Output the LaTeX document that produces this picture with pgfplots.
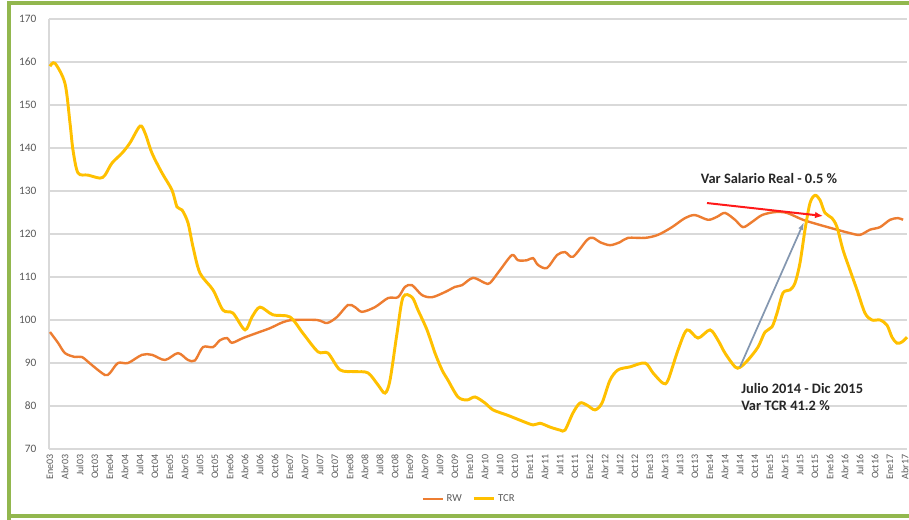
\documentclass[border=0pt]{standalone}
\usepackage{pgfplots}
\pgfplotsset{compat=1.18}
\usetikzlibrary{arrows.meta}
\usepackage{fontspec}
\setmainfont{Carlito}
\definecolor{rwc}{HTML}{ED7D31}
\definecolor{tcrc}{HTML}{FFC000}
\definecolor{gridc}{HTML}{D9D9D9}
\definecolor{txtc}{HTML}{595959}
\definecolor{greenb}{HTML}{92B74E}
\definecolor{arrg}{HTML}{8497B0}
\begin{document}
\begin{tikzpicture}
\path[use as bounding box] (0,0) rectangle (681.75pt,389.25pt);
% green frame (1px = 0.75pt)
\draw[greenb, line width=3pt] (6.75pt,-5pt) -- (6.75pt,387pt) -- (690pt,387pt);
\draw[greenb, line width=3pt] (6.75pt,2pt) -- (690pt,2pt);
\begin{axis}[
  at={(36.75pt,52.5pt)}, anchor=south west,
  scale only axis, width=643.5pt, height=322.5pt,
  xmin=-0.2, xmax=171.4, ymin=70, ymax=170,
  ytick={70,80,...,170},
  xtick={0,3,...,171},
  xticklabels={Ene03,Abr03,Jul03,Oct03,Ene04,Abr04,Jul04,Oct04,Ene05,Abr05,Jul05,Oct05,Ene06,Abr06,Jul06,Oct06,Ene07,Abr07,Jul07,Oct07,Ene08,Abr08,Jul08,Oct08,Ene09,Abr09,Jul09,Oct09,Ene10,Abr10,Jul10,Oct10,Ene11,Abr11,Jul11,Oct11,Ene12,Abr12,Jul12,Oct12,Ene13,Abr13,Jul13,Oct13,Ene14,Abr14,Jul14,Oct14,Ene15,Abr15,Jul15,Oct15,Ene16,Abr16,Jul16,Oct16,Ene17,Abr17},
  x tick label style={rotate=90, anchor=east, font=\fontsize{7.5}{8}\selectfont, text=txtc, inner sep=1pt},
  y tick label style={font=\fontsize{8.5}{9}\selectfont, text=txtc},
  /pgf/number format/assume math mode=true,
  major tick length=0pt,
  ymajorgrids, grid style={gridc, line width=1pt},
  axis line style={draw=none},
  xticklabel shift=3pt,
  yticklabel shift=6pt,
  clip=false,
  legend columns=2,
  legend style={at={(0.49,-0.116)}, anchor=center, draw=none, fill=none,
    font=\fontsize{8}{9}\selectfont, text=txtc, /tikz/every even column/.append style={column sep=6pt}},
  legend image code/.code={\draw[#1] (0pt,0pt) -- (15pt,0pt);},
]
\draw[gridc, line width=0.8pt] (axis cs:-0.2,70) -- (axis cs:-0.2,170);
\addplot[rwc, line width=1.8pt, smooth, tension=0.5] coordinates {
(0,97.2) (1.6,94.7) (3,92.3) (5,91.4) (6.4,91.4) (8.4,89.5) (11,87.2) (12,87.7)
(13.6,90) (15.6,90) (18.4,91.9) (20.4,91.9) (23,90.7) (25.6,92.3) (27.6,90.7) (29,90.6)
(30.6,93.7) (32.6,93.7) (34,95.3) (35.4,95.8) (36.4,94.7) (38.6,95.8) (41.4,97) (44,98.1)
(46.6,99.5) (48.6,100) (53.4,100) (55.4,99.3) (57.4,100.7) (59.6,103.5) (61,103) (62.4,101.9)
(65,103) (67.6,105.1) (69.6,105.3) (71,107.7) (72.4,108.1) (74.4,105.8) (76.4,105.3) (79,106.5)
(81,107.7) (82.4,108.1) (84.6,109.8) (87,108.6) (88,108.6) (90,111.6) (92.4,115.1) (93.6,113.9)
(95.4,113.9) (96.6,114.4) (97.6,112.8) (99.4,112.1) (101.4,115.1) (103,115.8) (104.6,114.7) (107.4,118.6)
(108.6,119.1) (110,118.1) (112,117.4) (114,118.1) (115.6,119.1) (119,119.1) (121.6,119.8) (124.4,121.6)
(127,123.7) (129,124.4) (131.6,123.3) (133.4,124) (135,124.9) (137,123.3) (138.6,121.6) (140.4,122.8)
(142.4,124.4) (145,125.1) (147.4,124.9) (150.6,123.3) (154,122.1) (157.4,121) (160,120.2) (162,119.8)
(164,121) (166,121.6) (168,123.3) (169.6,123.7) (170.6,123.3)
};
\addlegendentry{RW}
\addplot[tcrc, line width=2.2pt, smooth, tension=0.5] coordinates {
(0,159) (1,159.7) (3,155) (4,145.8) (4.6,139.5) (5.6,134.2) (7.6,133.7) (10,133)
(11,133.7) (12.4,136.5) (14.4,138.8) (16,141.2) (18,145.1) (19,143.5) (20.4,138.8) (22.4,134.2)
(24.4,130.2) (25.4,126.3) (26.4,125.6) (27.6,122.6) (28.6,117) (30,110.9) (32.6,107) (34.6,102.3)
(36.6,101.6) (39,97.7) (40.4,100.7) (42,103) (44.6,101.2) (48,100.7) (50.6,96.9) (53.6,92.6)
(55.6,92.3) (58,88.4) (61,88) (63.6,87.7) (65.6,84.9) (67,83) (68,86) (69.4,96.9)
(70.6,105.3) (72.4,105.3) (73.6,102.3) (75.4,97.7) (77,92.3) (78.4,88.4) (79.6,86) (81.6,82.1)
(83.4,81.4) (85,82.1) (87,80.7) (88.6,79.1) (91.4,77.9) (94,76.7) (96.6,75.6) (98,76)
(100,75.1) (102,74.4) (103,74.4) (104.6,78.4) (106,80.7) (107.4,80.2) (109,79.1) (110.4,80.7)
(112,86) (113.6,88.4) (116,89.1) (119,90) (120.6,87.7) (122.6,85.3) (123.6,86) (125.6,93)
(127.4,97.7) (129.6,95.8) (132,97.7) (133.6,95.3) (135,92.3) (137,89.1) (138,89) (139.6,90.7)
(141.6,93.7) (143,97.2) (144.4,98.4) (145.4,101.6) (146.6,106.3) (148,107) (149,108.6) (150,113.3)
(151,121) (152,127.2) (153,129) (154,127.9) (155,124.9) (156.4,123.7) (157.4,121.6) (158.6,116.3)
(160,111.6) (161.4,107) (163,101.6) (164.4,100) (166,100) (167.4,98.8) (168.4,96) (169.4,94.6)
(170.4,94.9) (171.4,96)
};
\addlegendentry{TCR}
% annotations
\draw[-{Latex[length=6pt,width=5pt]}, red!90!white, line width=1.5pt] (axis cs:131.4,127.2) -- (axis cs:154.6,124.2);
\draw[-{Latex[length=6pt,width=4pt]}, arrg, line width=1.3pt] (axis cs:138,89.1) -- (axis cs:150.8,122.8);
\node[font=\bfseries\fontsize{10.8}{12}\selectfont, text=black!85] at (axis cs:143.8,132.8) {Var Salario Real - 0.5 \%};
\node[font=\bfseries\fontsize{10.8}{12.8}\selectfont, text=black!85, anchor=west, align=left, inner sep=0pt] at (axis cs:138.2,82) {Julio 2014 - Dic 2015\\Var TCR 41.2 \%};
\end{axis}
\end{tikzpicture}
\end{document}
